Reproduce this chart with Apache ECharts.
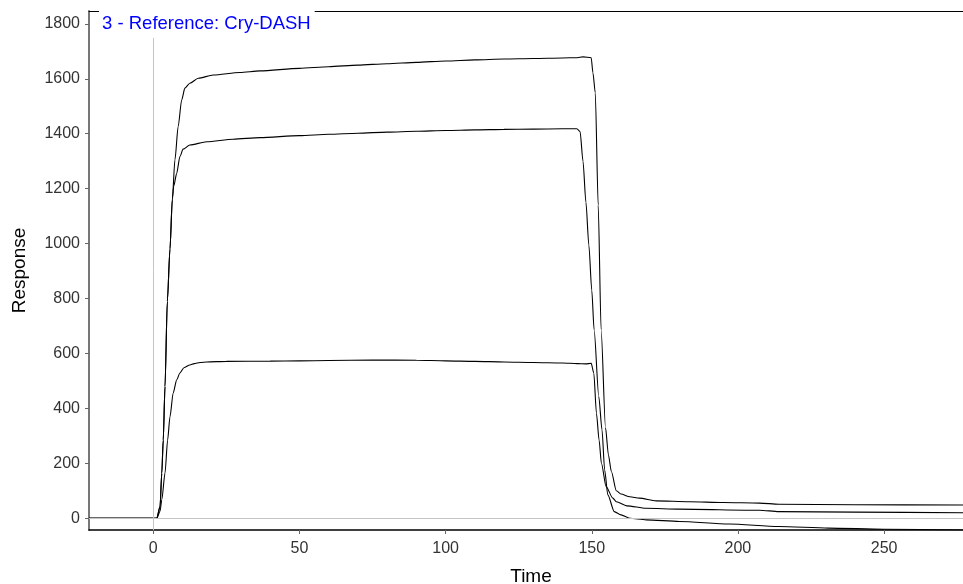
<!DOCTYPE html>
<html>
<head>
<meta charset="utf-8">
<script src="https://cdn.jsdelivr.net/npm/echarts@6/dist/echarts.min.js"></script>
<style>
  html, body { margin: 0; padding: 0; background: #fff; }
  #chart { width: 963px; height: 584px; }
</style>
</head>
<body>
<div id="chart"></div>
<script>
// Sensorgram: three injections, association from t=0, dissociation after ~150 s
const titleText = '3 - Reference: Cry-DASH';
const xTicks = [0, 50, 100, 150, 200, 250];
const yTicks = [0, 200, 400, 600, 800, 1000, 1200, 1400, 1600, 1800];

// Highest curve (plateau ~1670)
const timeHigh = [-22, -10, 0, 1.2, 2.3, 2.9, 3.4, 4.0, 4.8, 5.7, 6.5, 7.4, 8.5, 9.7, 10.8, 12.5, 15.4, 20.5, 29.6, 36.5,
  50, 60, 70, 80, 90, 100, 110, 120, 130, 140, 145, 147, 149.8, 150.4, 151.2, 152.2, 153.2, 154.7, 155.7, 156.7,
  158.4, 160, 163, 166.3, 172, 183.4, 195, 207.4, 214, 240, 277];
const respHigh = [0, 0, 0, 0, 42, 164, 285, 480, 790, 980, 1160, 1305, 1426, 1523, 1566, 1584, 1602, 1614, 1623, 1629,
  1638, 1644, 1650, 1655, 1660, 1665, 1669, 1672, 1674, 1676, 1677, 1680, 1677, 1622, 1549, 1140, 686, 330, 230, 170,
  100, 88, 78, 73, 63, 60, 57, 55, 51, 49, 48];

// Middle curve (plateau ~1415)
const timeMid = [-22, -10, 0, 1.2, 2.3, 2.9, 3.4, 4.0, 4.8, 5.7, 6.5, 7.0, 8.0, 9.1, 10.2, 12.5, 18.3, 27.3, 36.5,
  50, 60, 70, 80, 90, 100, 110, 120, 130, 140, 144.9, 146, 147, 148, 149, 150, 150.8, 152.4, 153.5, 154.4, 155.5,
  157.7, 160, 163, 168.6, 180, 197, 214, 231, 250, 277];
const respMid = [0, 0, 0, 0, 42, 164, 285, 480, 790, 980, 1160, 1210, 1256, 1317, 1344, 1359, 1371, 1380, 1386,
  1393, 1398, 1402, 1406, 1409, 1412, 1414, 1416, 1417, 1418, 1418, 1408, 1300, 1150, 995, 830, 686, 443, 322, 176, 85,
  24, 12, 0, -6, -12, -21, -30, -36, -40, -43];

// Lowest curve (plateau ~570)
const timeLow = [-22, -10, 0, 1.2, 2.3, 2.9, 4.0, 4.9, 5.7, 6.8, 8.0, 9.1, 10.5, 12.5, 14, 16, 18.3, 25, 40,
  50, 60, 75, 90, 100, 110, 120, 130, 140, 145, 148, 149.8, 150.7, 151.6, 152.5, 153.3, 154.9, 157.2, 158.4, 162,
  168.6, 180, 207.4, 214, 240, 277];
const respLow = [0, 0, 0, 0, 25, 67, 164, 285, 369, 456, 504, 529, 548, 558, 563, 567, 569, 571, 572,
  573, 574, 576, 575, 573, 571, 569, 567, 565, 563, 562, 564, 528, 382, 285, 200, 115, 73, 60, 45,
  36, 33, 29, 24, 22, 20];

const pairs = (t, v) => t.map((x, i) => [x, v[i]]);

const font = 'Liberation Sans, Arial, sans-serif';
const chart = echarts.init(document.getElementById('chart'), null, { renderer: 'canvas' });

const curveStyle = { color: '#000', width: 1.1 };
const curve = (data) => ({
  type: 'line', data: data, showSymbol: false, symbol: 'none',
  lineStyle: curveStyle, itemStyle: { color: '#000' }, smooth: 0.25, smoothMonotone: 'x',
  xAxisIndex: 0, yAxisIndex: 0, z: 3
});

chart.setOption({
  animation: false,
  backgroundColor: '#fff',
  title: {
    text: titleText, left: 99, top: 10,
    padding: [4, 4, 5, 3], backgroundColor: '#fff',
    textStyle: { color: '#0000ff', fontSize: 18.5, fontWeight: 'normal', fontFamily: font }
  },
  grid: { left: 89, right: 0, top: 11, bottom: 54, containLabel: false, outerBoundsMode: 'none' },
  xAxis: [{
    type: 'value', min: -22, max: 277, position: 'bottom',
    name: 'Time', nameLocation: 'middle', nameGap: 37,
    nameTextStyle: { color: '#000', fontSize: 19, fontFamily: font, padding: [0, 0, 0, 10] },
    axisLine: { show: true, onZero: false, lineStyle: { color: '#000', width: 1.5 } },
    axisTick: { show: true, customValues: xTicks, length: 4, lineStyle: { color: '#666' } },
    axisLabel: { customValues: xTicks, margin: 11, color: '#333', fontSize: 16, fontFamily: font,
      formatter: (v) => String(v) },
    splitLine: { show: false }
  }, {
    type: 'value', min: -22, max: 277, position: 'top',
    axisLine: { show: true, onZero: false, lineStyle: { color: '#000', width: 1 } },
    axisTick: { show: false }, axisLabel: { show: false }, splitLine: { show: false }
  }],
  yAxis: {
    type: 'value', min: -43, max: 1847,
    name: 'Response', nameLocation: 'middle', nameGap: 60,
    nameTextStyle: { color: '#000', fontSize: 19, fontFamily: font },
    axisLine: { show: true, onZero: false, lineStyle: { color: '#777', width: 2 } },
    axisTick: { show: true, customValues: yTicks, length: 4, lineStyle: { color: '#666' } },
    axisLabel: { customValues: yTicks, margin: 9, color: '#333', fontSize: 16, fontFamily: font,
      formatter: (v) => String(v) },
    splitLine: { show: false }
  },
  series: [
    {
      // zero reference lines (injection start and baseline)
      type: 'line', data: [], xAxisIndex: 0, yAxisIndex: 0, z: 1,
      markLine: {
        silent: true, symbol: 'none', label: { show: false },
        lineStyle: { color: '#c4c4c4', type: 'solid', width: 1 },
        data: [{ xAxis: 0 }, { yAxis: 0 }]
      }
    },
    curve(pairs(timeHigh, respHigh)),
    curve(pairs(timeMid, respMid)),
    curve(pairs(timeLow, respLow))
  ]
});
</script>
</body>
</html>
